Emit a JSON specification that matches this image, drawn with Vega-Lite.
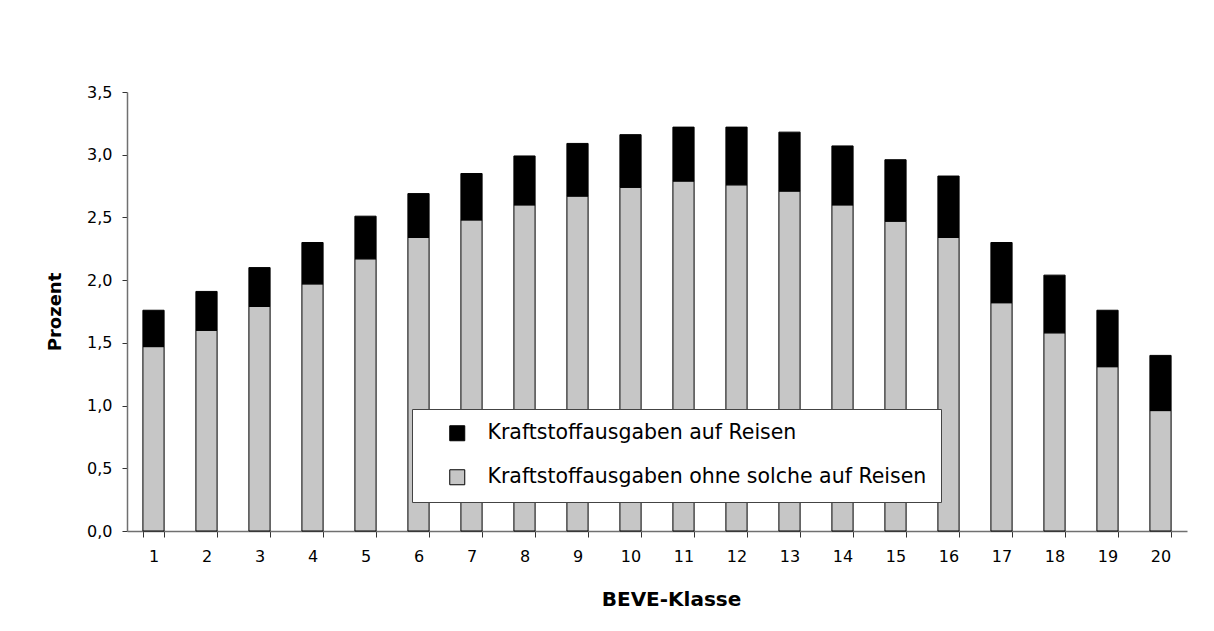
{
  "$schema": "https://vega.github.io/schema/vega-lite/v6.json",
  "autosize": {"type": "none"},
  "padding": {"left": 127, "top": 92, "right": 27, "bottom": 100},
  "width": 1060,
  "height": 439,
  "background": "#ffffff",
  "data": {
    "values": [
      {"Klasse": 1, "Art": "Kraftstoffausgaben ohne solche auf Reisen", "Prozent": 1.47},
      {"Klasse": 1, "Art": "Kraftstoffausgaben auf Reisen", "Prozent": 0.29},
      {"Klasse": 2, "Art": "Kraftstoffausgaben ohne solche auf Reisen", "Prozent": 1.60},
      {"Klasse": 2, "Art": "Kraftstoffausgaben auf Reisen", "Prozent": 0.31},
      {"Klasse": 3, "Art": "Kraftstoffausgaben ohne solche auf Reisen", "Prozent": 1.79},
      {"Klasse": 3, "Art": "Kraftstoffausgaben auf Reisen", "Prozent": 0.31},
      {"Klasse": 4, "Art": "Kraftstoffausgaben ohne solche auf Reisen", "Prozent": 1.97},
      {"Klasse": 4, "Art": "Kraftstoffausgaben auf Reisen", "Prozent": 0.33},
      {"Klasse": 5, "Art": "Kraftstoffausgaben ohne solche auf Reisen", "Prozent": 2.17},
      {"Klasse": 5, "Art": "Kraftstoffausgaben auf Reisen", "Prozent": 0.34},
      {"Klasse": 6, "Art": "Kraftstoffausgaben ohne solche auf Reisen", "Prozent": 2.34},
      {"Klasse": 6, "Art": "Kraftstoffausgaben auf Reisen", "Prozent": 0.35},
      {"Klasse": 7, "Art": "Kraftstoffausgaben ohne solche auf Reisen", "Prozent": 2.48},
      {"Klasse": 7, "Art": "Kraftstoffausgaben auf Reisen", "Prozent": 0.37},
      {"Klasse": 8, "Art": "Kraftstoffausgaben ohne solche auf Reisen", "Prozent": 2.60},
      {"Klasse": 8, "Art": "Kraftstoffausgaben auf Reisen", "Prozent": 0.39},
      {"Klasse": 9, "Art": "Kraftstoffausgaben ohne solche auf Reisen", "Prozent": 2.67},
      {"Klasse": 9, "Art": "Kraftstoffausgaben auf Reisen", "Prozent": 0.42},
      {"Klasse": 10, "Art": "Kraftstoffausgaben ohne solche auf Reisen", "Prozent": 2.74},
      {"Klasse": 10, "Art": "Kraftstoffausgaben auf Reisen", "Prozent": 0.42},
      {"Klasse": 11, "Art": "Kraftstoffausgaben ohne solche auf Reisen", "Prozent": 2.79},
      {"Klasse": 11, "Art": "Kraftstoffausgaben auf Reisen", "Prozent": 0.43},
      {"Klasse": 12, "Art": "Kraftstoffausgaben ohne solche auf Reisen", "Prozent": 2.76},
      {"Klasse": 12, "Art": "Kraftstoffausgaben auf Reisen", "Prozent": 0.46},
      {"Klasse": 13, "Art": "Kraftstoffausgaben ohne solche auf Reisen", "Prozent": 2.71},
      {"Klasse": 13, "Art": "Kraftstoffausgaben auf Reisen", "Prozent": 0.47},
      {"Klasse": 14, "Art": "Kraftstoffausgaben ohne solche auf Reisen", "Prozent": 2.60},
      {"Klasse": 14, "Art": "Kraftstoffausgaben auf Reisen", "Prozent": 0.47},
      {"Klasse": 15, "Art": "Kraftstoffausgaben ohne solche auf Reisen", "Prozent": 2.47},
      {"Klasse": 15, "Art": "Kraftstoffausgaben auf Reisen", "Prozent": 0.49},
      {"Klasse": 16, "Art": "Kraftstoffausgaben ohne solche auf Reisen", "Prozent": 2.34},
      {"Klasse": 16, "Art": "Kraftstoffausgaben auf Reisen", "Prozent": 0.49},
      {"Klasse": 17, "Art": "Kraftstoffausgaben ohne solche auf Reisen", "Prozent": 1.82},
      {"Klasse": 17, "Art": "Kraftstoffausgaben auf Reisen", "Prozent": 0.48},
      {"Klasse": 18, "Art": "Kraftstoffausgaben ohne solche auf Reisen", "Prozent": 1.58},
      {"Klasse": 18, "Art": "Kraftstoffausgaben auf Reisen", "Prozent": 0.46},
      {"Klasse": 19, "Art": "Kraftstoffausgaben ohne solche auf Reisen", "Prozent": 1.31},
      {"Klasse": 19, "Art": "Kraftstoffausgaben auf Reisen", "Prozent": 0.45},
      {"Klasse": 20, "Art": "Kraftstoffausgaben ohne solche auf Reisen", "Prozent": 0.96},
      {"Klasse": 20, "Art": "Kraftstoffausgaben auf Reisen", "Prozent": 0.44}
    ]
  },
  "mark": {"type": "bar", "stroke": "#000000", "strokeWidth": 1},
  "encoding": {
    "x": {
      "field": "Klasse",
      "type": "ordinal",
      "title": "BEVE-Klasse",
      "scale": {"paddingInner": 0.6, "paddingOuter": 0.3},
      "axis": {
        "labelAngle": 0,
        "tickBand": "extent",
        "tickSize": 6,
        "labelPadding": 11,
        "titleX": 544,
        "titleY": 74,
        "titleBaseline": "alphabetic",
        "titleFontSize": 20
      }
    },
    "y": {
      "field": "Prozent",
      "type": "quantitative",
      "stack": "zero",
      "title": "Prozent",
      "scale": {"domain": [0, 3.5], "nice": false},
      "axis": {
        "values": [0, 0.5, 1, 1.5, 2, 2.5, 3, 3.5],
        "labelExpr": "replace(format(datum.value, '.1f'), '.', ',')",
        "tickSize": 5,
        "labelPadding": 10,
        "titleX": -72,
        "titleBaseline": "middle",
        "titleFontSize": 18
      }
    },
    "color": {
      "field": "Art",
      "type": "nominal",
      "scale": {
        "domain": ["Kraftstoffausgaben auf Reisen", "Kraftstoffausgaben ohne solche auf Reisen"],
        "range": ["#000000", "#c6c6c6"]
      },
      "legend": {
        "title": null,
        "orient": "none",
        "legendX": 285,
        "legendY": 317,
        "strokeColor": "#444444",
        "fillColor": "#ffffff",
        "padding": 14,
        "symbolType": "square",
        "symbolSize": 225,
        "symbolStrokeColor": "#000000",
        "symbolStrokeWidth": 1,
        "symbolOffset": 21,
        "labelOffset": 20,
        "labelFont": "DejaVu Sans",
        "labelFontSize": 20.5,
        "labelColor": "#000000",
        "rowPadding": 23,
        "labelLimit": 600
      }
    },
    "order": {"field": "Art", "sort": "descending"}
  },
  "config": {
    "view": {"stroke": null},
    "font": "DejaVu Sans",
    "axis": {
      "grid": false,
      "domainColor": "#707070",
      "domainWidth": 1.5,
      "tickColor": "#333333",
      "tickWidth": 1,
      "labelFont": "DejaVu Sans",
      "labelFontSize": 16,
      "labelColor": "#000000",
      "titleFont": "DejaVu Sans",
      "titleFontWeight": "bold",
      "titleColor": "#000000"
    }
  }
}
